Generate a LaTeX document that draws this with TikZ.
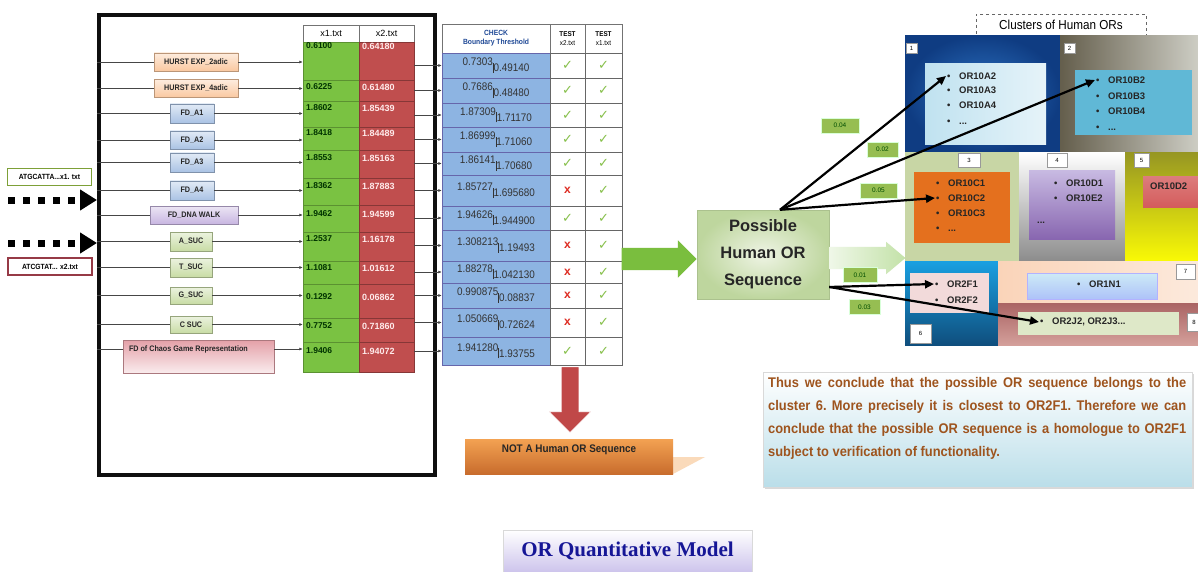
\documentclass[tikz,border=0pt]{standalone}
\usepackage{fontspec}
\setmainfont{Liberation Sans}
\setsansfont{Liberation Sans}
\newfontfamily\titleserif{Liberation Serif}
\newfontfamily\condsans[FakeStretch=0.9]{Liberation Sans}
\newfontfamily\notesans[FakeStretch=0.92]{Liberation Sans}
\newfontfamily\marksfont{DejaVu Sans}
\usetikzlibrary{shapes, arrows.meta, positioning, calc, shadows}
\definecolor{frameink}{RGB}{15,15,15}
\definecolor{wireink}{RGB}{70,70,70}
\definecolor{hurstcolor}{RGB}{250,200,160}
\definecolor{fdcolor}{RGB}{170,195,228}
\definecolor{walkcolor}{RGB}{200,182,225}
\definecolor{succolor}{RGB}{200,220,165}
\definecolor{chaoscolor}{RGB}{228,160,168}
\definecolor{xonecolor}{RGB}{122,194,66}
\definecolor{xtwocolor}{RGB}{192,78,78}
\definecolor{threshcolor}{RGB}{141,180,226}
\definecolor{checkblue}{RGB}{31,73,150}
\definecolor{okgreen}{RGB}{135,192,75}
\definecolor{badred}{RGB}{222,45,35}
\definecolor{arrowgreen}{RGB}{122,190,62}
\definecolor{possouter}{RGB}{190,214,158}
\definecolor{possinner}{RGB}{238,244,228}
\definecolor{tagcolor}{RGB}{150,190,82}
\definecolor{notecolor}{RGB}{186,222,233}
\definecolor{notetext}{RGB}{158,84,30}
\definecolor{titleblue}{RGB}{22,22,150}
\definecolor{titlefill}{RGB}{205,196,236}
\definecolor{rejectred}{RGB}{192,72,72}
\definecolor{rejecttop}{RGB}{243,162,82}
\definecolor{rejectbottom}{RGB}{200,108,45}
\definecolor{rejectshade}{RGB}{250,218,186}
\definecolor{seqagreen}{RGB}{125,160,55}
\definecolor{seqbred}{RGB}{150,58,70}
\definecolor{clonein}{RGB}{45,115,195}
\definecolor{cloneout}{RGB}{15,60,130}
\definecolor{cltwoleft}{RGB}{100,94,76}
\definecolor{cltworight}{RGB}{205,205,196}
\definecolor{clthree}{RGB}{200,214,165}
\definecolor{clfour}{RGB}{140,140,140}
\definecolor{clfivetop}{RGB}{150,150,35}
\definecolor{clfive}{RGB}{250,250,5}
\definecolor{clsixtop}{RGB}{25,160,225}
\definecolor{clsixbottom}{RGB}{15,78,125}
\definecolor{clseven}{RGB}{250,212,185}
\definecolor{cleighttop}{RGB}{170,100,100}
\definecolor{cleightbottom}{RGB}{212,160,155}
\definecolor{boxone}{RGB}{192,226,240}
\definecolor{boxtwo}{RGB}{96,184,214}
\definecolor{boxthree}{RGB}{228,112,30}
\definecolor{boxfourtop}{RGB}{200,186,226}
\definecolor{boxfourbottom}{RGB}{136,102,176}
\definecolor{boxfive}{RGB}{212,92,92}
\definecolor{boxsix}{RGB}{242,218,218}
\definecolor{boxseven}{RGB}{205,234,246}
\definecolor{boxeight}{RGB}{222,232,200}

\newcommand{\okm}{{\marksfont\color{okgreen}\fontsize{13}{13}\selectfont ✓}}
\newcommand{\badm}{{\color{badred}\bfseries\fontsize{12}{12}\selectfont x}}
\newcommand{\splitval}[2]{\raisebox{3pt}{#1}\rule[-4pt]{0.8pt}{10pt}\raisebox{-3pt}{#2}}
\newcommand{\orbullet}{\makebox[12pt][l]{\textbullet}}

\begin{document}
\begin{tikzpicture}[
    x=1pt, y=-1pt, font=\sffamily,
    featbox/.style={
        rectangle, draw=#1!75!black, top color=#1!35!white, bottom color=#1,
        inner sep=0pt, font=\condsans\bfseries\fontsize{8}{9}\selectfont, text=black!85
    },
    seqbox/.style={
        rectangle, draw=#1, line width=1.4pt, fill=white, inner sep=0pt,
        minimum width=84pt, minimum height=17pt, font=\condsans\bfseries\fontsize{7.5}{9}\selectfont
    },
    headcell/.style={rectangle, draw=black!55, fill=white, inner sep=0pt, align=center},
    xone/.style={rectangle, draw=xonecolor!75!black, fill=xonecolor, minimum width=56pt, inner sep=0pt},
    xtwo/.style={rectangle, draw=xtwocolor!70!black, fill=xtwocolor, minimum width=55pt, inner sep=0pt},
    valone/.style={anchor=west, inner sep=2pt, font=\bfseries\fontsize{8.5}{9}\selectfont, text=black!80!green},
    valtwo/.style={anchor=west, inner sep=2pt, font=\bfseries\fontsize{9}{9}\selectfont, text=red!8!white},
    threshcell/.style={
        rectangle, draw=black!55!blue!60, fill=threshcolor, minimum width=108pt, inner sep=0pt,
        font=\condsans\fontsize{11}{11}\selectfont, text=black!80
    },
    testcell/.style={rectangle, draw=black!60, fill=white, inner sep=0pt},
    wire/.style={draw=wireink, line width=0.6pt},
    feed/.style={wire, -{Latex[length=3.5pt,width=3pt]}},
    dotarrow/.style={line width=7pt, dash pattern=on 7pt off 8pt, -{Triangle[length=17pt,width=20pt]}},
    fanarrow/.style={line width=2.2pt, -{Triangle[length=9pt,width=8pt]}},
    region/.style={rectangle, anchor=north west, inner sep=0pt},
    numtag/.style={rectangle, draw=black!40, fill=white, inner sep=0pt, font=\fontsize{6}{6}\selectfont},
    weight/.style={
        rectangle, draw=white!85!green, fill=tagcolor, inner sep=0pt, minimum height=15pt,
        font=\fontsize{6.5}{7}\selectfont, text=black!70!green
    },
    oritem/.style={anchor=west, inner sep=1pt, font=\bfseries\fontsize{9.5}{10}\selectfont, text=black!85}
]

\fill[white] (0,0) rectangle (1198,572);
\useasboundingbox (0,0) rectangle (1198,572);

% Outer frame
\node[draw=frameink, line width=4pt, minimum width=336pt, minimum height=460pt, inner sep=0pt] (frame) at (267,245) {};

% Input sequences
\node[seqbox=seqagreen] (seqa) at (49.5,177) {ATGCATTA...x1. txt};
\node[seqbox=seqbred] (seqb) at (50,266.5) {ATCGTAT... x2.txt};
\coordinate (feeda) at (8,200);
\coordinate (feedb) at (8,243);
\draw[dotarrow] (feeda) -- (feeda -| frame.west);
\draw[dotarrow] (feedb) -- (feedb -| frame.west);

% Feature extractors
\node[featbox=hurstcolor, minimum width=84pt, minimum height=18pt] (hurstb) at (196,62) {HURST EXP\_2adic};
\node[featbox=hurstcolor, minimum width=84pt, minimum height=18pt] (hurstd) at (196,88.5) {HURST EXP\_4adic};
\node[featbox=fdcolor, minimum width=44pt, minimum height=19pt] (fda) at (192,113.5) {FD\_A1};
\node[featbox=fdcolor, minimum width=44pt, minimum height=18pt] (fdb) at (192,140) {FD\_A2};
\node[featbox=fdcolor, minimum width=44pt, minimum height=19pt] (fdc) at (192,162.5) {FD\_A3};
\node[featbox=fdcolor, minimum width=44pt, minimum height=19pt] (fdd) at (192,190.5) {FD\_A4};
\node[featbox=walkcolor, minimum width=88pt, minimum height=18pt] (walk) at (194,215) {FD\_DNA WALK};
\node[featbox=succolor, minimum width=42pt, minimum height=19pt] (suca) at (191,241.5) {A\_SUC};
\node[featbox=succolor, minimum width=42pt, minimum height=19pt] (suct) at (191,267.5) {T\_SUC};
\node[featbox=succolor, minimum width=42pt, minimum height=17pt] (sucg) at (191,295.5) {G\_SUC};
\node[featbox=succolor, minimum width=42pt, minimum height=17pt] (succ) at (191,324.5) {C SUC};
\node[featbox=chaoscolor, top color=chaoscolor, bottom color=chaoscolor!20!white,
      minimum width=151pt, minimum height=33pt] (chaos) at (198.5,356.5) {};
\node[anchor=west, inner sep=0pt, font=\condsans\bfseries\fontsize{8}{9}\selectfont, text=black!85]
      (chaoslabel) at ([xshift=6pt,yshift=7.5pt]chaos.west) {FD of Chaos Game Representation};

% x1 / x2 values
\node[headcell, minimum width=56pt, minimum height=17pt, font=\fontsize{9}{10}\selectfont] (hxa) at (331,33.5) {x1.txt};
\node[headcell, minimum width=55pt, minimum height=17pt, font=\fontsize{9}{10}\selectfont] (hxb) at (386.5,33.5) {x2.txt};
\foreach \i/\ya/\yb/\ty/\va/\vb in {
    1/42/80/46/0.6100/0.64180, 2/80/101/87/0.6225/0.61480, 3/101/127/108/1.8602/1.85439,
    4/127/150/133/1.8418/1.84489, 5/150/178/158/1.8553/1.85163, 6/178/205/186/1.8362/1.87883,
    7/205/232/214/1.9462/1.94599, 8/232/261/239/1.2537/1.16178, 9/261/284/268/1.1081/1.01612,
    10/284/318/297/0.1292/0.06862, 11/318/342/326/0.7752/0.71860, 12/342/372/351/1.9406/1.94072}{
    \node[xone, minimum height={(\yb-\ya)*1pt}] (xa\i) at (331,{(\ya+\yb)/2}) {};
    \node[xtwo, minimum height={(\yb-\ya)*1pt}] (xb\i) at (386.5,{(\ya+\yb)/2}) {};
    \node[valone] at (304,\ty) {\va};
    \node[valtwo] at (360,\ty) {\vb};
}

% Feature lines into the table
\foreach \f/\r in {hurstb/1, hurstd/2, fda/3, fdb/4, fdc/5, fdd/6, walk/7, suca/8, suct/9, sucg/10, succ/11}{
    \draw[wire] (frame.west |- \f.west) -- (\f.west);
    \draw[feed] (\f.east) -- (\f.east -| xa\r.west);
}
\coordinate (chaosin) at ([yshift=7.5pt]chaos.west);
\coordinate (chaosout) at ([yshift=7.5pt]chaos.east);
\draw[wire] (frame.west |- chaosin) -- (chaosin);
\draw[feed] (chaosout) -- (chaosout -| xa12.west);

% Boundary check and tests
\node[headcell, minimum width=108pt, minimum height=29pt, text=checkblue,
      font=\condsans\bfseries\fontsize{7.5}{9}\selectfont] (hcheck) at (496,38.5) {CHECK\\Boundary Threshold};
\node[headcell, minimum width=35pt, minimum height=29pt, font=\condsans\fontsize{7}{9}\selectfont] (htb) at (567.5,38.5) {\textbf{TEST}\\x2.txt};
\node[headcell, minimum width=37pt, minimum height=29pt, font=\condsans\fontsize{7}{9}\selectfont] (hta) at (603.5,38.5) {\textbf{TEST}\\x1.txt};
\foreach \i/\ya/\yb/\ca/\cb/\mk in {
    1/53/78/0.7303/0.49140/\okm, 2/78/103/0.7686/0.48480/\okm, 3/103/127/1.87309/1.71170/\okm,
    4/127/152/1.86999/1.71060/\okm, 5/152/175/1.86141/1.70680/\okm, 6/175/206/1.85727/1.695680/\badm,
    7/206/230/1.94626/1.944900/\okm, 8/230/261/1.308213/1.19493/\badm, 9/261/283/1.88278/1.042130/\badm,
    10/283/308/0.990875/0.08837/\badm, 11/308/337/1.050669/0.72624/\badm, 12/337/365/1.941280/1.93755/\okm}{
    \node[threshcell, minimum height={(\yb-\ya)*1pt}] (bd\i) at (496,{(\ya+\yb)/2}) {\splitval{\ca}{\cb}};
    \node[testcell, minimum width=35pt, minimum height={(\yb-\ya)*1pt}] (tb\i) at (567.5,{(\ya+\yb)/2}) {\mk};
    \node[testcell, minimum width=37pt, minimum height={(\yb-\ya)*1pt}] (ta\i) at (603.5,{(\ya+\yb)/2}) {\okm};
    \draw[feed] (xb\i.east |- bd\i.west) -- (bd\i.west);
}

% Rejected branch
\node[single arrow, fill=rejectred, draw=white, line width=0.8pt, inner sep=8.5pt,
      single arrow head extend=12pt, minimum height=66pt, rotate=-90, anchor=tail]
      (toreject) at ([xshift=2.5pt,yshift=-1pt]tb12.south) {};
\fill[rejectshade] (673,457) -- (705,457) -- (673,474) -- cycle;
\node[rectangle, minimum width=208pt, minimum height=35pt, inner sep=0pt,
      top color=rejecttop, bottom color=rejectbottom] (nothuman) at (569,456.5) {};
\node[inner sep=0pt, font=\condsans\bfseries\fontsize{11}{12}\selectfont, text=black!85]
      (nottext) at ([yshift=6.5pt]nothuman.center) {NOT A Human OR Sequence};

% Accepted branch
\node[rectangle, minimum width=132pt, minimum height=89pt, inner sep=0pt, align=center,
      inner color=possinner, outer color=possouter, draw=possouter!90!black,
      font=\bfseries\fontsize{16.5}{27}\selectfont, text=black!85] (poss) at (763,254.5) {Possible\\Human OR\\Sequence};
\node[single arrow, fill=arrowgreen, inner sep=11pt, single arrow head extend=7.5pt,
      minimum height=75pt, anchor=tip] (topossible) at ([yshift=-4.5pt]poss.west) {};

% Clusters of Human ORs
\node[draw=black!60, dashed, fill=white, minimum width=170pt, minimum height=21pt, inner sep=0pt,
      font=\condsans\fontsize{13}{14}\selectfont] (clhead) at (1061,24.5) {Clusters of Human ORs};
\node[region, minimum width=155pt, minimum height=117pt, inner color=clonein, outer color=cloneout] (clone) at (905,35) {};
\node[region, minimum width=138pt, minimum height=117pt, left color=cltwoleft, right color=cltworight] (cltwo) at (1060,35) {};
\node[region, minimum width=114pt, minimum height=109pt, fill=clthree] (clthree) at (905,152) {};
\node[region, minimum width=106pt, minimum height=109pt, top color=white, bottom color=clfour] (clfour) at (1019,152) {};
\node[region, minimum width=73pt, minimum height=109pt, top color=clfivetop, bottom color=clfive] (clfive) at (1125,152) {};
\node[region, minimum width=93pt, minimum height=84pt, top color=clsixtop, bottom color=clsixbottom] (clsix) at (905,261) {};
\node[region, minimum width=200pt, minimum height=42pt, left color=clseven, right color=clseven!50!white] (clseven) at (998,261) {};
\node[region, minimum width=200pt, minimum height=42pt, top color=cleighttop, bottom color=cleightbottom] (cleight) at (998,303) {};

\node[region, minimum width=121pt, minimum height=81pt, left color=boxone, right color=boxone!40!white] (boxa) at (925,63) {};
\node[region, minimum width=117pt, minimum height=65pt, fill=boxtwo] (boxb) at (1075,70) {};
\node[region, minimum width=96pt, minimum height=71pt, fill=boxthree] (boxc) at (914,172) {};
\node[region, minimum width=86pt, minimum height=69pt, top color=boxfourtop, bottom color=boxfourbottom] (boxd) at (1029,170) {};
\node[region, minimum width=62pt, minimum height=31pt, top color=boxfive!80!white, bottom color=boxfive] (boxe) at (1143,176) {};
\node[region, minimum width=79pt, minimum height=40pt, fill=boxsix] (boxf) at (910,273) {};
\node[region, minimum width=130pt, minimum height=26pt, top color=boxseven, bottom color=boxseven!80!blue!90, draw=white!70!blue] (boxg) at (1027,273) {};
\node[region, minimum width=161pt, minimum height=23pt, fill=boxeight] (boxh) at (1018,312) {};

\node[numtag, minimum width=11pt, minimum height=10pt] (tagone) at (911.5,48) {1};
\node[numtag, minimum width=11pt, minimum height=10pt] (tagtwo) at (1069.5,48) {2};
\node[numtag, minimum width=22pt, minimum height=14pt] (tagthree) at (969,160) {3};
\node[numtag, minimum width=20pt, minimum height=14pt] (tagfour) at (1057,160) {4};
\node[numtag, minimum width=15pt, minimum height=14pt] (tagfive) at (1141.5,160) {5};
\node[numtag, minimum width=21pt, minimum height=19pt] (tagsix) at (920.5,333.5) {6};
\node[numtag, minimum width=19pt, minimum height=15pt] (tagseven) at (1185.5,271.5) {7};
\node[numtag, minimum width=14pt, minimum height=18pt] (tageight) at (1194,322) {8};

\node[oritem] (ora2) at (946,76) {\orbullet OR10A2};
\node[oritem] (ora3) at (946,90.5) {\orbullet OR10A3};
\node[oritem] (ora4) at (946,105) {\orbullet OR10A4};
\node[oritem] (ora5) at (946,122) {\orbullet ...};
\node[oritem] (orb2) at (1095,80) {\orbullet OR10B2};
\node[oritem] (orb3) at (1095,96) {\orbullet OR10B3};
\node[oritem] (orb4) at (1095,111) {\orbullet OR10B4};
\node[oritem] (orb5) at (1095,128) {\orbullet ...};
\node[oritem] (orc1) at (935,183) {\orbullet OR10C1};
\node[oritem] (orc2) at (935,198) {\orbullet OR10C2};
\node[oritem] (orc3) at (935,213) {\orbullet OR10C3};
\node[oritem] (orc4) at (935,229) {\orbullet ...};
\node[oritem] (ord1) at (1053,183) {\orbullet OR10D1};
\node[oritem] (ore2) at (1053,198) {\orbullet OR10E2};
\node[oritem] (ordots) at (1036,223) {...};
\node[oritem] (ord2) at (1149,186) {OR10D2};
\node[oritem] (orf1) at (934,284) {\orbullet OR2F1};
\node[oritem] (orf2) at (934,300) {\orbullet OR2F2};
\node[oritem] (orn1) at (1076,284) {\orbullet OR1N1};
\node[oritem] (orj2) at (1039,322) {\orbullet OR2J2, OR2J3...};

% Distances to the clusters
\node[single arrow, left color=arrowgreen!12!white, right color=arrowgreen!45!white, inner sep=11pt,
      single arrow head extend=5pt, single arrow tip angle=80, minimum height=76pt, anchor=tail]
      (toclusters) at ([yshift=-3.5pt]poss.east) {};
\coordinate (fanup) at ([xshift=17pt]poss.north);
\coordinate (fanlow) at ([yshift=-32.5pt]poss.east);
\draw[fanarrow] (fanup) -- (ora2.west);
\draw[fanarrow] (fanup) -- (orb2.west);
\draw[fanarrow] (fanup) -- (orc2.west);
\draw[fanarrow] (fanlow) -- (orf1.west);
\draw[fanarrow] (fanlow) -- (orj2.west);
\node[weight, minimum width=38pt] (wa) at (840,125.5) {0.04};
\node[weight, minimum width=31pt] (wb) at (882.5,149.5) {0.02};
\node[weight, minimum width=37pt] (wc) at (878.5,190.5) {0.05};
\node[weight, minimum width=34pt] (wd) at (860,275) {0.01};
\node[weight, minimum width=31pt] (we) at (864.5,307) {0.03};

% Conclusion
\node[rectangle, minimum width=429pt, minimum height=115pt, inner sep=0pt, top color=white, bottom color=notecolor,
      draw=black!15, drop shadow={opacity=0.3, shadow xshift=2pt, shadow yshift=-2pt}] (note) at (977.5,429.5) {};
\node[anchor=north west, text width=418pt, align=justify, inner sep=0pt,
      font=\notesans\bfseries\fontsize{14}{23}\selectfont\frenchspacing, text=notetext] (notetext) at (768,377)
      {Thus we conclude that the possible OR sequence belongs to the\linebreak
       cluster 6. More precisely it is closest to OR2F1. Therefore we can\linebreak
       conclude that the possible OR sequence is a homologue to OR2F1\linebreak
       subject to verification of functionality.};

% Title
\node[rectangle, minimum width=249pt, minimum height=42pt, inner sep=0pt, top color=white, bottom color=titlefill,
      draw=black!15, font=\titleserif\bfseries\fontsize{21}{24}\selectfont, text=titleblue] (title) at (627.5,551) {OR Quantitative Model};

\end{tikzpicture}
\end{document}
